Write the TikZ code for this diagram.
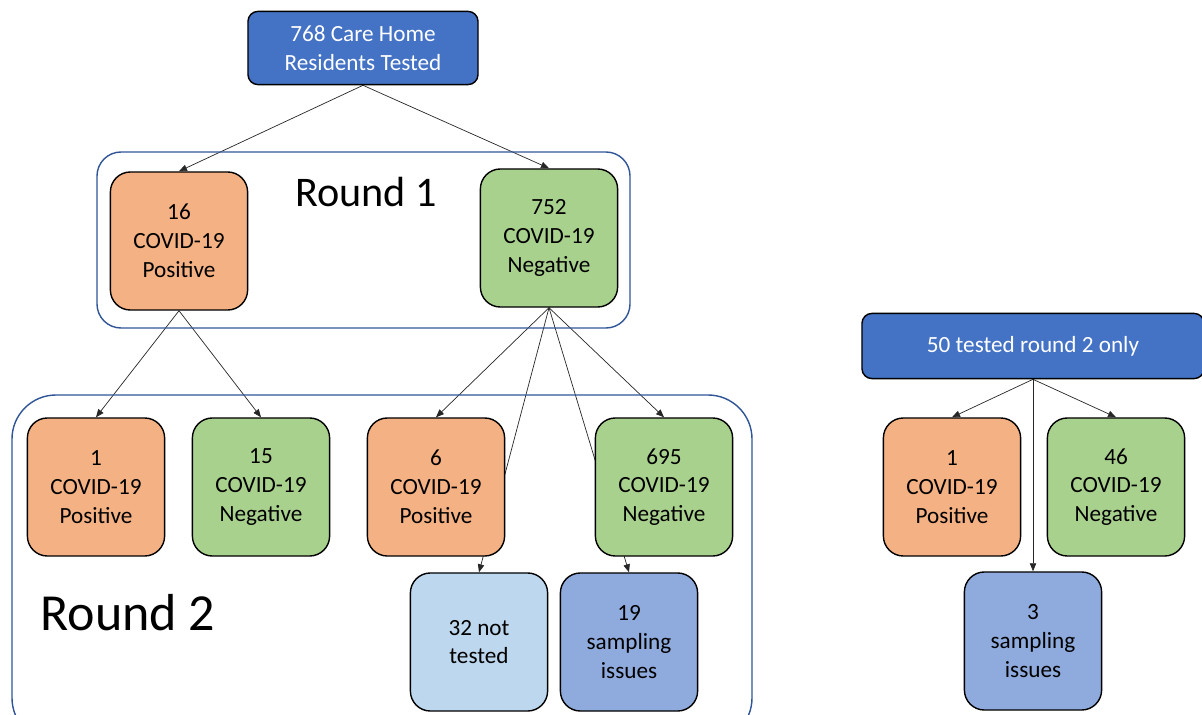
\documentclass[tikz,border=0pt]{standalone}
\usepackage{fontspec}
\setmainfont{Carlito}
\usepackage{xcolor}
\usepackage{tikz}
\usetikzlibrary{shapes, arrows.meta, positioning, backgrounds}

\definecolor{posorange}{HTML}{F4B183}
\definecolor{neggreen}{HTML}{A9D18E}
\definecolor{headblue}{HTML}{4472C4}
\definecolor{paleblue}{HTML}{BDD7EE}
\definecolor{issueblue}{HTML}{8FAADC}
\definecolor{framblue}{HTML}{2F5597}

\begin{document}
\begin{tikzpicture}
  [
    x=0.025cm, y=-0.025cm,
    Count/.style={rectangle, rounded corners=0.5cm, draw=black, line width=1pt, minimum width=3.43cm, minimum height=3.45cm, inner sep=0pt, align=center, font=\fontsize{16.5}{20.5}\selectfont},
    Pos/.style={Count, fill=posorange},
    Neg/.style={Count, fill=neggreen},
    Pale/.style={Count, fill=paleblue},
    Issue/.style={Count, fill=issueblue},
    Head/.style={rectangle, rounded corners=0.25cm, draw=black, line width=1pt, fill=headblue, text=white, inner sep=0pt, align=center, font=\fontsize{16.5}{20.5}\selectfont},
    Frame/.style={draw=framblue, line width=1pt},
    Link/.style={-{Triangle[length=2mm, width=1.6mm]}, draw=black!85, line width=0.5pt}
  ]
  \clip (0,0) rectangle (1202,715);

  % Round frames
  \draw[Frame, rounded corners=0.6cm] (97,152) rectangle (630,328);
  \draw[Frame, rounded corners=1.1cm] (12,395) rectangle (752,742);

  % Nodes
  \node[Head, minimum width=5.75cm, minimum height=1.83cm] (tested) at (363,48) {768 Care Home\\Residents Tested};
  \node[font=\fontsize{30}{36}\selectfont] (round1) at (366,192) {Round 1};
  \node[Pos] (r1pos) at (179,241) {16\\COVID-19\\Positive};
  \node[Neg] (r1neg) at (549,238) {752\\COVID-19\\Negative};

  \node[font=\fontsize{37}{44}\selectfont] (round2) at (128,613) {Round 2};
  \node[Pos] (r2posa) at (96,487) {1\\COVID-19\\Positive};
  \node[Neg] (r2nega) at (261,487) {15\\COVID-19\\Negative};
  \node[Pos] (r2posb) at (436,487) {6\\COVID-19\\Positive};
  \node[Neg] (r2negb) at (664,487) {695\\COVID-19\\Negative};
  \node[Pale] (nottested) at (479,642) {32 not\\tested};
  \node[Issue] (issues) at (629,642) {19\\sampling\\issues};

  \node[Head, minimum width=8.55cm, minimum height=1.63cm] (only) at (1033,346) {50 tested round 2 only};
  \node[Pos] (onlypos) at (952,487) {1\\COVID-19\\Positive};
  \node[Neg] (onlyneg) at (1116,487) {46\\COVID-19\\Negative};
  \node[Issue] (onlyissues) at (1033,641) {3\\sampling\\issues};

  % Lines
  \begin{pgfonlayer}{background}
    \path [Link] (tested.south) -- (r1pos.north);
    \path [Link] (tested.south) -- (r1neg.north);
    \path [Link] (r1pos.south) -- (r2posa.north);
    \path [Link] (r1pos.south) -- (r2nega.north);
    \path [Link] (r1neg.south) -- (r2posb.north);
    \path [Link] (r1neg.south) -- (r2negb.north);
    \path [Link] (r1neg.south) -- (nottested.north);
    \path [Link] (r1neg.south) -- (issues.north);
    \path [Link] (only.south) -- (onlypos.north);
    \path [Link] (only.south) -- (onlyneg.north);
    \path [Link] (only.south) -- (onlyissues.north);
  \end{pgfonlayer}

\end{tikzpicture}
\end{document}
